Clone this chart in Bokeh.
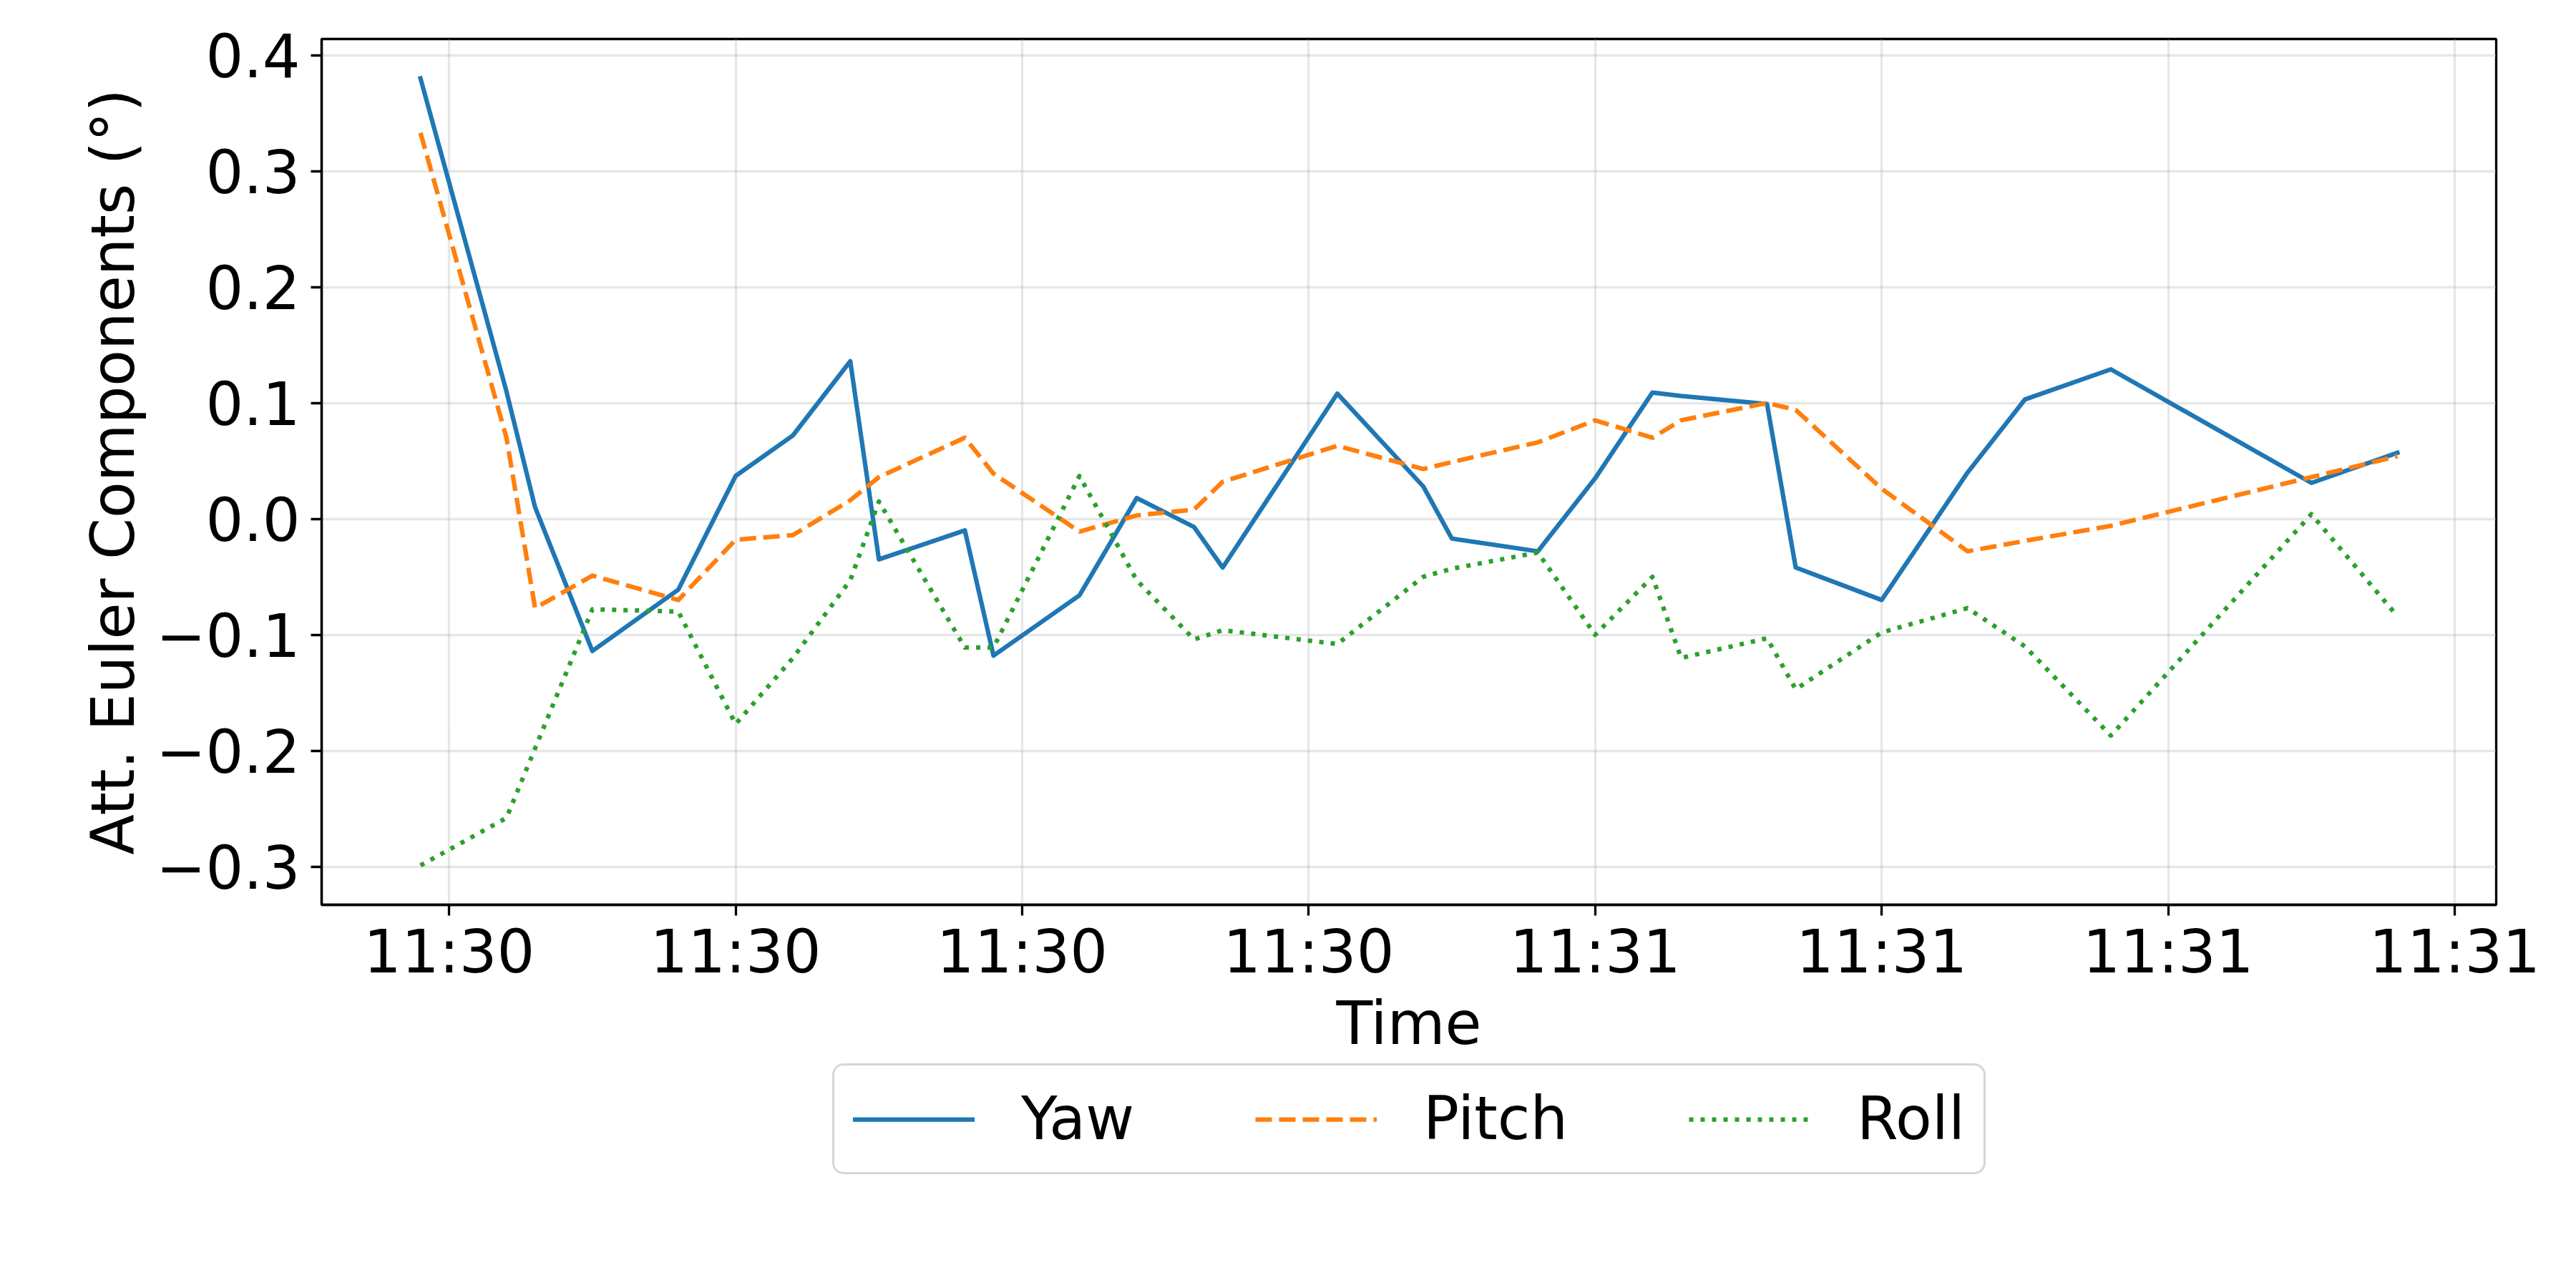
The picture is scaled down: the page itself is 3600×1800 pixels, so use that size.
import pandas as pd
from bokeh.plotting import figure
from bokeh.layouts import column
from bokeh.models import Range1d, FixedTicker, Legend, LegendItem
from bokeh.embed import file_html
from bokeh.resources import INLINE

# ---------------- data ----------------
date_str = "2024-01-01"
times = ["11:29:58.5", "11:30:03.0", "11:30:04.5", "11:30:07.5", "11:30:12.0",
         "11:30:15.0", "11:30:18.0", "11:30:21.0", "11:30:22.5", "11:30:27.0",
         "11:30:28.5", "11:30:33.0", "11:30:36.0", "11:30:39.0", "11:30:40.5",
         "11:30:46.5", "11:30:51.0", "11:30:52.5", "11:30:57.0", "11:31:00.0",
         "11:31:03.0", "11:31:04.5", "11:31:09.0", "11:31:10.5", "11:31:15.0",
         "11:31:19.5", "11:31:22.5", "11:31:27.0", "11:31:37.5", "11:31:42.0"]
yaw = [0.380, 0.110, 0.010, -0.114, -0.061, 0.037, 0.072, 0.136, -0.035, -0.010,
       -0.118, -0.066, 0.018, -0.007, -0.042, 0.108, 0.028, -0.017, -0.028, 0.035,
       0.109, 0.106, 0.099, -0.042, -0.070, 0.040, 0.103, 0.129, 0.031, 0.057]
pitch = [0.333, 0.070, -0.077, -0.049, -0.070, -0.018, -0.014, 0.016, 0.036, 0.070,
         0.039, -0.011, 0.003, 0.008, 0.032, 0.063, 0.043, 0.049, 0.066, 0.085,
         0.070, 0.085, 0.100, 0.094, 0.026, -0.028, -0.019, -0.006, 0.036, 0.054]
roll = [-0.299, -0.258, -0.198, -0.078, -0.080, -0.177, -0.120, -0.053, 0.015, -0.111,
        -0.111, 0.037, -0.053, -0.104, -0.096, -0.108, -0.050, -0.043, -0.029, -0.100,
        -0.050, -0.120, -0.103, -0.147, -0.098, -0.077, -0.110, -0.187, 0.004, -0.084]
series_names = ["Yaw", "Pitch", "Roll"]
series_colors = ["#1f77b4", "#ff7f0e", "#2ca02c"]

x_tick_times = ["11:30:00", "11:30:15", "11:30:30", "11:30:45",
                "11:31:00", "11:31:15", "11:31:30", "11:31:45"]
x_tick_labels = ["11:30", "11:30", "11:30", "11:30",
                 "11:31", "11:31", "11:31", "11:31"]
y_tick_values = [-0.3, -0.2, -0.1, 0.0, 0.1, 0.2, 0.3, 0.4]
y_tick_labels = ["\u22120.3", "\u22120.2", "\u22120.1", "0.0", "0.1", "0.2", "0.3", "0.4"]

x_label = "Time"
y_label = "Att. Euler Components (\u00b0)"

# ---------------- conversion ----------------
def to_ms(strings):
    idx = pd.to_datetime([f"{date_str} {s}" for s in strings])
    return [float(v) / 1e6 for v in idx.asi8]

x_ms = to_ms(times)
tick_ms = to_ms(x_tick_times)

xmin, xmax = min(x_ms), max(x_ms)
xpad = 0.05 * (xmax - xmin)
all_y = yaw + pitch + roll
ymin, ymax = min(all_y), max(all_y)
ypad = 0.05 * (ymax - ymin)

FONT = "DejaVu Sans"
FS = "83px"
LW = 3.3
LINE_W = 6.25
styles = [dict(line_cap="square"),
          dict(line_cap="butt", line_dash="23 10"),
          dict(line_cap="butt", line_dash="6 10")]

# ---------------- main plot ----------------
p = figure(width=3584, height=1484, x_axis_type="datetime",
           output_backend="svg", toolbar_location=None,
           x_range=Range1d(xmin - xpad, xmax + xpad),
           y_range=Range1d(ymin - ypad, ymax + ypad),
           min_border_left=449, min_border_right=96,
           min_border_top=54, min_border_bottom=220)
p.background_fill_color = "white"
p.border_fill_color = "white"
p.outline_line_color = "black"
p.outline_line_width = LW
p.outline_line_alpha = 1.0

for vals, col, st in zip([yaw, pitch, roll], series_colors, styles):
    p.line(x_ms, vals, line_color=col, line_width=LINE_W, line_join="round", **st)

xa = p.xaxis[0]
ya = p.yaxis[0]
xa.ticker = FixedTicker(ticks=tick_ms)
xa.major_label_overrides = {t: lab for t, lab in zip(tick_ms, x_tick_labels)}
ya.ticker = FixedTicker(ticks=y_tick_values)
ya.major_label_overrides = {v: lab for v, lab in zip(y_tick_values, y_tick_labels)}
xa.axis_label = x_label
ya.axis_label = y_label

for ax in (xa, ya):
    ax.major_label_text_font = FONT
    ax.major_label_text_font_size = FS
    ax.major_label_text_color = "black"
    ax.axis_label_text_font = FONT
    ax.axis_label_text_font_size = FS
    ax.axis_label_text_font_style = "normal"
    ax.axis_label_text_color = "black"
    ax.major_tick_out = 15
    ax.major_tick_in = 0
    ax.major_tick_line_width = LW
    ax.major_tick_line_color = "black"
    ax.minor_tick_out = 0
    ax.minor_tick_in = 0
    ax.axis_line_width = LW
    ax.axis_line_color = "black"

xa.major_label_standoff = 2
xa.axis_label_standoff = 0
ya.major_label_standoff = 15
ya.axis_label_standoff = 8

p.grid.grid_line_color = "#b0b0b0"
p.grid.grid_line_alpha = 0.3
p.grid.grid_line_width = LW

# ---------------- legend strip below ----------------
LEG_H = 300
pl = figure(width=3584, height=LEG_H, output_backend="svg", toolbar_location=None,
            x_range=Range1d(0, 1), y_range=Range1d(0, 1),
            x_axis_location=None, y_axis_location=None,
            min_border_left=0, min_border_right=0, min_border_top=0, min_border_bottom=0)
pl.outline_line_color = None
pl.background_fill_color = "white"
pl.border_fill_color = "white"
pl.grid.visible = False

# legend proxies: drawn outside the strip's visible range so only their legend glyphs show
legend_renderers = []
for col, st in zip(series_colors, styles):
    legend_renderers.append(pl.line([5, 6], [5, 6], line_color=col, line_width=LINE_W,
                                    line_join="round", **st))

LEG_BOX_H = 150
legend = Legend(items=[LegendItem(label=n, renderers=[r])
                       for n, r in zip(series_names, legend_renderers)],
                orientation="horizontal",
                location=(714, LEG_H - 7 - LEG_BOX_H))
legend.label_text_font = FONT
legend.label_text_font_size = FS
legend.label_text_color = "black"
legend.glyph_width = 170
legend.glyph_height = 60
legend.label_standoff = 65
legend.spacing = 169
legend.padding = 26
legend.margin = 0
legend.border_line_color = "#cccccc"
legend.border_line_width = LW
legend.border_line_alpha = 0.8
legend.background_fill_color = "white"
legend.background_fill_alpha = 0.8
try:
    legend.border_radius = 16
except Exception:
    pass
pl.add_layout(legend, "center")

layout = column(p, pl)
open("out.html", "w").write(file_html(layout, INLINE))
